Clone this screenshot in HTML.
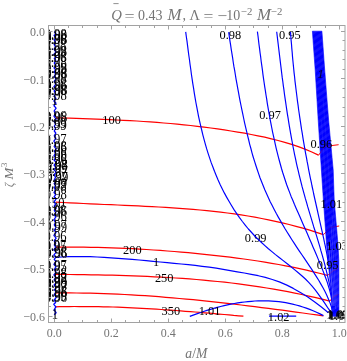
<!DOCTYPE html><html><head><meta charset="utf-8"><style>
html,body{margin:0;padding:0;background:#fff;}body{width:347px;height:361px;overflow:hidden;position:relative;font-family:"Liberation Serif",serif;}svg{will-change:transform;position:absolute;left:0;top:0;display:block}text{font-family:"Liberation Serif",serif;}
</style></head><body>
<svg width="347" height="361" viewBox="0 0 347 361">
<defs><clipPath id="c"><rect x="48.5" y="25.5" width="296.5" height="297.0"/></clipPath></defs>
<rect width="347" height="361" fill="#fff"/>
<g clip-path="url(#c)">
<g fill="none" stroke="#ff0000" stroke-width="1.25" stroke-linejoin="miter">
<path d="M56.0,117.8 L62.7,118.0 L69.5,118.2 L76.2,118.4 L82.9,118.6 L89.7,118.9 L96.4,119.1 L103.1,119.4 L109.8,119.6 L116.6,120.0 L123.3,120.3 L130.0,120.7 L136.8,121.0 L143.5,121.5 L150.2,121.9 L157.0,122.4 L163.7,123.0 L170.4,123.5 L177.2,124.2 L183.9,124.8 L190.6,125.5 L197.3,126.3 L204.1,127.1 L210.8,128.0 L217.5,128.9 L224.3,129.9 L231.0,131.0 L237.7,132.1 L244.5,133.2 L251.2,134.5 L257.9,135.8 L264.7,137.2 L271.4,138.8 L278.1,140.5 L284.8,142.4 L291.6,144.4 L298.3,146.7 L305.0,149.2 L311.8,152.0 L318.5,155.1"/>
<path d="M318.5,155.3 L324.8,146.5 L338.6,144.7" stroke-width="0.9"/>
<path d="M56.0,202.1 L62.9,202.5 L69.7,202.9 L76.6,203.2 L83.4,203.5 L90.3,203.9 L97.1,204.2 L104.0,204.5 L110.9,204.7 L117.7,205.0 L124.6,205.3 L131.4,205.6 L138.3,205.9 L145.1,206.3 L152.0,206.6 L158.8,207.0 L165.7,207.4 L172.6,207.8 L179.4,208.3 L186.3,208.8 L193.1,209.3 L200.0,210.0 L206.8,210.6 L213.7,211.3 L220.6,212.1 L227.4,213.0 L234.3,213.9 L241.1,214.9 L248.0,216.0 L254.8,217.2 L261.7,218.5 L268.5,219.8 L275.4,221.3 L282.3,222.9 L289.1,224.5 L296.0,226.3 L302.8,228.2 L309.7,230.2 L316.5,232.4 L323.4,234.7"/>
<path d="M323.4,234.7 L330.6,227.5 L339.2,226.0" stroke-width="0.9"/>
<path d="M56.0,247.0 L63.0,247.0 L69.9,247.0 L76.9,247.1 L83.8,247.1 L90.8,247.3 L97.8,247.4 L104.7,247.6 L111.7,247.8 L118.6,248.1 L125.6,248.4 L132.5,248.7 L139.5,249.1 L146.5,249.5 L153.4,250.0 L160.4,250.4 L167.3,251.0 L174.3,251.5 L181.3,252.1 L188.2,252.7 L195.2,253.4 L202.1,254.1 L209.1,254.8 L216.1,255.6 L223.0,256.4 L230.0,257.2 L236.9,258.1 L243.9,259.0 L250.9,260.0 L257.8,261.0 L264.8,262.1 L271.7,263.3 L278.7,264.5 L285.6,265.8 L292.6,267.2 L299.6,268.6 L306.5,270.1 L313.5,271.8 L320.4,273.5 L327.4,275.3"/>
<path d="M327.4,275.6 L333.0,270.8 L337.5,269.2" stroke-width="0.9"/>
<path d="M56.0,274.4 L63.0,274.4 L70.0,274.5 L77.1,274.6 L84.1,274.7 L91.1,274.8 L98.1,274.9 L105.2,275.1 L112.2,275.2 L119.2,275.4 L126.2,275.6 L133.3,275.9 L140.3,276.1 L147.3,276.4 L154.3,276.8 L161.3,277.1 L168.4,277.5 L175.4,278.0 L182.4,278.4 L189.4,278.9 L196.5,279.5 L203.5,280.1 L210.5,280.8 L217.5,281.5 L224.6,282.2 L231.6,283.0 L238.6,283.9 L245.6,284.8 L252.6,285.8 L259.7,286.9 L266.7,288.0 L273.7,289.1 L280.7,290.4 L287.8,291.7 L294.8,293.1 L301.8,294.5 L308.8,296.1 L315.9,297.7 L322.9,299.3 L329.9,301.1"/>
<path d="M329.9,301.0 L334.0,296.2 L338.5,294.4" stroke-width="0.9"/>
<path d="M56.0,293.0 L62.9,292.9 L69.7,292.9 L76.6,293.0 L83.4,293.1 L90.3,293.2 L97.1,293.4 L104.0,293.6 L110.9,293.9 L117.7,294.2 L124.6,294.5 L131.4,294.9 L138.3,295.3 L145.1,295.7 L152.0,296.2 L158.8,296.7 L165.7,297.3 L172.6,297.8 L179.4,298.5 L186.3,299.1 L193.1,299.7 L200.0,300.4 L206.8,301.1 L213.7,301.9 L220.6,302.6 L227.4,303.4 L234.3,304.2 L241.1,305.0 L248.0,305.8 L254.8,306.7 L261.7,307.6 L268.5,308.4 L275.4,309.3 L282.3,310.2 L289.1,311.2 L296.0,312.1 L302.8,313.0 L309.7,314.0 L316.5,314.9 L323.4,315.9"/>
<path d="M55.0,306.9 L59.8,306.7 L64.7,306.6 L69.5,306.6 L74.3,306.5 L79.2,306.5 L84.0,306.5 L88.8,306.5 L93.6,306.6 L98.5,306.7 L103.3,306.8 L108.1,306.9 L113.0,307.0 L117.8,307.2 L122.6,307.4 L127.5,307.6 L132.3,307.8 L137.1,308.1 L142.0,308.3 L146.8,308.6 L151.6,308.9 L156.4,309.2 L161.3,309.5 L166.1,309.8 L170.9,310.2 L175.8,310.5 L180.6,310.9 L185.4,311.3 L190.3,311.6 L195.1,312.0 L199.9,312.4 L204.8,312.8 L209.6,313.2 L214.4,313.7 L219.2,314.1 L224.1,314.5 L228.9,314.9 L233.7,315.4 L238.6,315.8 L243.4,316.2"/>
</g>
<g font-size="12.4" fill="#000" text-anchor="middle">
<text transform="translate(230.3,38.7) scale(1,1.09)">0.98</text>
<text transform="translate(289.9,38.7) scale(1,1.09)">0.95</text>
<text transform="translate(270.0,119.0) scale(1,1.09)">0.97</text>
<text transform="translate(255.7,241.8) scale(1,1.09)">0.99</text>
<text transform="translate(320.4,78.0) scale(1,1.09)">1</text>
</g>
<g fill="none" stroke="#0000ff" stroke-width="1.18" stroke-linejoin="round">
<path d="M54.2,31.6 L56.0,33.6 L54.1,35.5 L55.6,37.7 L54.3,40.1 L55.6,42.4 L54.1,44.3 L55.6,47.1 L54.0,49.2 L55.9,52.1 L53.8,54.4 L56.1,56.3 L54.3,58.4 L55.8,60.4 L54.3,63.1 L56.0,65.6 L54.0,67.9 L55.6,69.8 L54.0,71.8 L55.8,74.1 L54.1,76.6 L56.1,78.8 L54.2,81.4 L55.9,83.9 L53.9,86.8 L56.2,88.9 L54.1,90.9 L55.6,93.6 L54.3,95.9 L56.0,98.5 L53.9,101.0 L56.0,103.2 L54.0,105.7 L56.1,108.1 L54.1,111.0 L55.6,113.6 L54.0,116.2 L56.1,119.2 L54.1,121.4 L55.6,124.0 L54.3,126.3 L55.6,128.3 L54.3,131.0 L55.8,133.1 L54.3,135.9 L55.9,138.3 L53.9,141.1 L55.7,144.0 L54.2,146.3 L56.2,149.1 L54.3,151.1 L55.7,153.2 L54.0,155.6 L55.6,157.7 L54.1,160.0 L56.2,162.5 L54.1,165.1 L56.0,167.6 L53.9,169.5 L56.1,172.2 L54.1,175.0 L55.6,177.3 L54.3,179.8 L55.7,181.7 L54.2,183.7 L55.6,185.6 L54.3,187.6 L55.6,189.8 L54.0,192.6 L55.7,194.6 L54.1,196.8 L56.1,198.8 L54.1,201.8 L55.6,204.2 L54.2,206.1 L56.1,208.2 L54.3,210.2 L55.9,213.1 L54.1,215.1 L55.9,216.9 L53.9,219.9 L55.7,222.6 L54.3,224.8 L55.9,227.5 L54.2,230.3 L56.1,232.3 L53.9,235.3 L56.1,238.1 L54.2,240.8 L55.8,243.2 L54.3,245.0 L55.7,247.2 L53.8,249.8 L56.2,252.1 L53.8,255.1 L55.7,257.3 L54.2,259.4 L56.0,261.5 L53.9,264.3 L56.0,266.7 L54.3,269.5 L56.1,272.1 L53.9,274.8 L55.7,277.2 L54.2,279.9 L56.2,282.7 L54.1,285.0 L56.0,287.9 L54.3,289.9 L56.1,291.9 L54.3,294.7 L56.2,297.4 L54.2,300.0 L55.6,302.5 L53.8,304.3 L55.9,306.9 L54.1,309.8 L56.1,312.7 L54.2,314.7" stroke-width="1.3"/>
<path d="M55.0,257.4 L62.0,257.0 L69.0,256.7 L76.0,256.6 L83.0,256.6 L90.1,256.7 L97.1,257.0 L104.1,257.3 L111.1,257.8 L118.1,258.3 L125.1,258.8 L132.1,259.4 L139.1,260.0 L146.1,260.7 L153.1,261.3 L160.2,262.0 L167.2,262.7 L174.2,263.3 L181.2,264.0 L188.2,264.7 L195.2,265.4 L202.2,266.3 L209.2,267.2 L216.2,268.2 L223.2,269.3 L230.3,270.6 L237.3,271.8 L244.3,273.0 L251.3,274.3 L258.3,275.7 L265.3,277.4 L272.3,279.5 L279.3,281.9 L286.3,284.9 L293.3,288.4 L300.4,292.4 L307.4,296.8 L314.4,301.7 L321.4,307.0 L328.4,312.8"/>
<path d="M189.8,316.4 L193.2,315.1 L196.7,313.9 L200.1,312.7 L203.5,311.5 L206.9,310.4 L210.4,309.4 L213.8,308.4 L217.2,307.4 L220.6,306.5 L224.1,305.7 L227.5,304.9 L230.9,304.2 L234.3,303.5 L237.8,302.9 L241.2,302.4 L244.6,302.0 L248.0,301.6 L251.5,301.3 L254.9,301.0 L258.3,300.9 L261.7,300.8 L265.2,300.8 L268.6,300.9 L272.0,301.1 L275.4,301.4 L278.9,301.7 L282.3,302.2 L285.7,302.7 L289.1,303.4 L292.6,304.1 L296.0,305.0 L299.4,305.9 L302.8,307.0 L306.3,308.1 L309.7,309.4 L313.1,310.8 L316.5,312.3 L320.0,313.9 L323.4,315.6"/>
<path d="M269.0,316.2 L296.2,316.2"/>
<path d="M185.7,31.9 L186.3,36.5 L187.0,41.2 L187.6,45.9 L188.2,50.6 L188.8,55.3 L189.5,60.0 L190.1,64.7 L190.8,69.5 L191.4,74.2 L192.1,78.9 L192.8,83.6 L193.6,88.4 L194.3,93.1 L195.1,97.8 L195.9,102.5 L196.8,107.2 L197.7,111.9 L198.6,116.6 L199.6,121.2 L200.7,125.9 L201.8,130.5 L202.9,135.1 L204.1,139.7 L205.4,144.3 L206.7,148.9 L208.1,153.4 L209.6,157.9 L211.1,162.4 L212.8,166.8 L214.5,171.3 L216.3,175.7 L218.1,180.0 L220.1,184.4 L222.2,188.7 L224.3,192.9 L226.6,197.1 L229.0,201.3 L231.5,205.5 L234.0,209.6 L236.7,213.6 L239.5,217.6 L242.4,221.5 L245.4,225.3 L248.4,229.0 L251.6,232.5 L254.8,236.0 L258.1,239.3 L261.5,242.5 L264.9,245.6 L268.4,248.7 L271.9,251.6 L275.5,254.6 L279.2,257.5 L282.9,260.4 L286.6,263.3 L290.4,266.3 L294.2,269.4 L298.0,272.5 L301.8,275.7 L305.4,279.0 L308.7,282.4 L311.9,285.9 L314.8,289.4 L317.6,293.1 L320.3,296.8 L323.0,300.7 L325.7,304.6 L328.4,308.7 L331.3,312.8"/>
<path d="M228.7,32.2 L229.3,36.4 L229.9,40.6 L230.6,44.9 L231.2,49.1 L231.9,53.4 L232.6,57.7 L233.2,62.0 L233.9,66.4 L234.7,70.7 L235.4,75.0 L236.1,79.4 L236.9,83.7 L237.7,88.1 L238.5,92.4 L239.3,96.8 L240.1,101.1 L241.0,105.5 L241.9,109.8 L242.8,114.2 L243.7,118.5 L244.6,122.8 L245.6,127.1 L246.6,131.4 L247.6,135.7 L248.7,140.0 L249.7,144.3 L250.9,148.5 L252.0,152.8 L253.2,157.0 L254.5,161.2 L255.8,165.3 L257.2,169.5 L258.6,173.6 L260.0,177.7 L261.6,181.8 L263.2,185.8 L264.8,189.8 L266.6,193.8 L268.4,197.7 L270.2,201.7 L272.2,205.6 L274.2,209.4 L276.2,213.3 L278.3,217.1 L280.5,220.9 L282.7,224.7 L284.9,228.5 L287.2,232.2 L289.5,235.9 L291.9,239.7 L294.3,243.4 L296.7,247.1 L299.2,250.8 L301.7,254.5 L304.2,258.2 L306.7,261.9 L309.2,265.6 L311.6,269.2 L314.0,272.9 L316.4,276.6 L318.7,280.3 L320.9,284.1 L323.0,287.8 L325.0,291.6 L326.9,295.5 L328.6,299.4 L330.2,303.4 L331.6,307.5 L332.8,311.7"/>
<path d="M257.4,31.7 L258.0,36.0 L258.5,40.3 L259.0,44.5 L259.6,48.8 L260.1,53.0 L260.7,57.2 L261.2,61.5 L261.8,65.7 L262.4,69.9 L262.9,74.1 L263.5,78.3 L264.1,82.5 L264.7,86.6 L265.4,90.8 L266.0,95.0 L266.7,99.1 L267.3,103.3 L268.0,107.4 L268.7,111.5 L269.5,115.7 L270.2,119.8 L271.0,123.9 L271.8,128.0 L272.6,132.1 L273.5,136.1 L274.4,140.2 L275.3,144.3 L276.2,148.3 L277.2,152.4 L278.2,156.4 L279.3,160.5 L280.4,164.5 L281.5,168.5 L282.7,172.5 L284.0,176.5 L285.3,180.5 L286.6,184.5 L288.1,188.5 L289.6,192.4 L291.1,196.4 L292.8,200.3 L294.4,204.3 L296.1,208.2 L297.8,212.1 L299.6,216.0 L301.3,220.0 L303.0,223.9 L304.7,227.7 L306.4,231.6 L308.1,235.5 L309.8,239.4 L311.5,243.3 L313.1,247.2 L314.8,251.1 L316.5,255.0 L318.1,258.9 L319.7,262.8 L321.4,266.7 L322.9,270.6 L324.4,274.5 L325.9,278.5 L327.3,282.4 L328.5,286.4 L329.7,290.4 L330.7,294.4 L331.5,298.4 L332.2,302.4 L332.7,306.5 L333.0,310.5"/>
<path d="M276.7,31.8 L277.2,36.0 L277.7,40.1 L278.2,44.3 L278.7,48.5 L279.2,52.6 L279.7,56.7 L280.2,60.9 L280.7,65.0 L281.2,69.1 L281.7,73.2 L282.2,77.4 L282.8,81.5 L283.3,85.6 L283.9,89.7 L284.4,93.7 L285.0,97.8 L285.6,101.9 L286.2,106.0 L286.8,110.1 L287.4,114.1 L288.1,118.2 L288.7,122.2 L289.4,126.3 L290.1,130.3 L290.8,134.4 L291.5,138.4 L292.3,142.5 L293.0,146.5 L293.8,150.5 L294.6,154.6 L295.5,158.6 L296.3,162.6 L297.2,166.6 L298.2,170.7 L299.1,174.7 L300.1,178.7 L301.1,182.7 L302.1,186.7 L303.2,190.7 L304.3,194.7 L305.4,198.7 L306.6,202.7 L307.7,206.7 L308.9,210.7 L310.1,214.7 L311.3,218.7 L312.5,222.7 L313.7,226.7 L315.0,230.7 L316.2,234.7 L317.4,238.7 L318.6,242.7 L319.8,246.7 L320.9,250.7 L322.1,254.7 L323.2,258.7 L324.3,262.7 L325.3,266.7 L326.3,270.6 L327.3,274.6 L328.2,278.6 L329.1,282.6 L330.0,286.6 L330.7,290.6 L331.5,294.6 L332.1,298.6 L332.7,302.6 L333.3,306.7 L333.7,310.7"/>
<path d="M290.5,31.9 L290.8,36.0 L291.1,40.1 L291.5,44.3 L291.8,48.4 L292.2,52.5 L292.5,56.6 L292.9,60.7 L293.3,64.8 L293.7,68.8 L294.1,72.9 L294.6,77.0 L295.0,81.1 L295.5,85.1 L296.0,89.2 L296.5,93.3 L297.0,97.3 L297.5,101.4 L298.1,105.4 L298.6,109.5 L299.2,113.5 L299.8,117.6 L300.4,121.6 L301.0,125.6 L301.6,129.7 L302.3,133.7 L302.9,137.7 L303.6,141.8 L304.3,145.8 L305.0,149.8 L305.7,153.8 L306.5,157.8 L307.2,161.9 L308.0,165.9 L308.7,169.9 L309.5,173.9 L310.3,177.9 L311.2,181.9 L312.0,186.0 L312.9,190.0 L313.7,194.0 L314.6,198.0 L315.5,202.0 L316.4,206.0 L317.3,210.0 L318.2,214.1 L319.1,218.1 L320.0,222.1 L320.9,226.1 L321.8,230.1 L322.7,234.1 L323.6,238.2 L324.4,242.2 L325.3,246.2 L326.1,250.2 L326.9,254.2 L327.6,258.3 L328.4,262.3 L329.1,266.3 L329.7,270.4 L330.4,274.4 L331.0,278.4 L331.5,282.5 L332.0,286.5 L332.5,290.6 L332.9,294.6 L333.2,298.7 L333.5,302.7 L333.7,306.8 L333.9,310.9"/>
</g>
<clipPath id="bc"><path d="M312.4,31.2 L321.9,31.2 L324.7,70.0 L327.0,100.0 L328.6,120.0 L333.2,170.0 L334.2,200.0 L338.0,245.0 L338.8,260.0 L338.9,290.0 L338.9,316.3 L331.9,316.3 L331.7,300.0 L331.0,290.0 L329.4,275.0 L326.6,245.0 L323.4,200.0 L321.4,170.0 L318.2,120.0 L317.0,100.0 L315.2,70.0 Z"/></clipPath><path d="M312.4,31.2 L321.9,31.2 L324.7,70.0 L327.0,100.0 L328.6,120.0 L333.2,170.0 L334.2,200.0 L338.0,245.0 L338.8,260.0 L338.9,290.0 L338.9,316.3 L331.9,316.3 L331.7,300.0 L331.0,290.0 L329.4,275.0 L326.6,245.0 L323.4,200.0 L321.4,170.0 L318.2,120.0 L317.0,100.0 L315.2,70.0 Z" fill="#0000ff" stroke="#0000ff" stroke-width="0.6"/><path clip-path="url(#bc)" d="M300,36.0L345,4.0 M300,42.6L345,10.6 M300,49.2L345,17.2 M300,55.8L345,23.8 M300,62.4L345,30.4 M300,69.0L345,37.0 M300,75.6L345,43.6 M300,82.2L345,50.2 M300,88.8L345,56.8 M300,95.4L345,63.4 M300,102.0L345,70.0 M300,108.6L345,76.6 M300,115.2L345,83.2 M300,121.8L345,89.8 M300,128.4L345,96.4 M300,135.0L345,103.0 M300,141.6L345,109.6 M300,148.2L345,116.2 M300,154.8L345,122.8 M300,161.4L345,129.4 M300,168.0L345,136.0 M300,174.6L345,142.6 M300,181.2L345,149.2 M300,187.8L345,155.8 M300,194.4L345,162.4 M300,201.0L345,169.0 M300,207.6L345,175.6 M300,214.2L345,182.2 M300,220.8L345,188.8 M300,227.4L345,195.4 M300,234.0L345,202.0 M300,240.6L345,208.6 M300,247.2L345,215.2 M300,253.8L345,221.8 M300,260.4L345,228.4 M300,267.0L345,235.0 M300,273.6L345,241.6 M300,280.2L345,248.2 M300,286.8L345,254.8 M300,293.4L345,261.4 M300,300.0L345,268.0 M300,306.6L345,274.6 M300,313.2L345,281.2 M300,319.8L345,287.8 M300,326.4L345,294.4 M300,333.0L345,301.0 M300,339.6L345,307.6" stroke="#ffffff" stroke-width="2.6" opacity="0.075" fill="none"/><path d="M328.6,246.0 L329.1,252.0 L329.7,258.0 L330.1,264.0 L330.6,270.0 L331.1,276.0 L331.6,282.0 L332.2,288.0 L332.6,294.0 L332.9,300.0 L333.0,306.0" stroke="#ffffff" stroke-width="0.55" opacity="0.55" fill="none"/><path d="M330.3,240.0 L330.8,246.0 L331.3,252.0 L331.7,258.0 L332.1,264.0 L332.5,270.0 L332.9,276.0 L333.3,282.0 L333.7,288.0 L334.0,294.0 L334.3,300.0 L334.3,306.0" stroke="#ffffff" stroke-width="0.55" opacity="0.32" fill="none"/><path d="M331.1,225.0 L331.5,231.0 L332.0,237.0 L332.5,243.0 L332.9,249.0 L333.4,255.0 L333.8,261.0 L334.0,267.0 L334.3,273.0 L334.6,279.0 L334.9,285.0 L335.2,291.0 L335.4,297.0 L335.5,303.0 L335.6,309.0" stroke="#ffffff" stroke-width="0.55" opacity="0.26" fill="none"/><path d="M332.1,215.0 L332.5,221.0 L333.0,227.0 L333.5,233.0 L334.0,239.0 L334.5,245.0 L334.9,251.0 L335.3,257.0 L335.5,263.0 L335.7,269.0 L335.9,275.0 L336.1,281.0 L336.3,287.0 L336.5,293.0 L336.6,299.0 L336.7,305.0" stroke="#ffffff" stroke-width="0.55" opacity="0.20" fill="none"/><path d="M333.0,205.0 L333.5,211.0 L334.0,217.0 L334.5,223.0 L335.0,229.0 L335.5,235.0 L336.0,241.0 L336.4,247.0 L336.8,253.0 L337.1,259.0 L337.3,265.0 L337.4,271.0 L337.5,277.0 L337.6,283.0 L337.7,289.0 L337.8,295.0 L337.8,301.0 L337.8,307.0" stroke="#ffffff" stroke-width="0.55" opacity="0.16" fill="none"/><path d="M321.3,120.0 L321.8,126.0 L322.2,132.0 L322.6,138.0 L323.1,144.0 L323.5,150.0 L323.9,156.0 L324.4,162.0 L324.8,168.0 L325.2,174.0 L325.5,180.0 L325.8,186.0 L326.2,192.0 L326.5,198.0 L326.9,204.0 L327.4,210.0" stroke="#ffffff" stroke-width="0.55" opacity="0.12" fill="none"/><path d="M323.2,100.0 L323.6,106.0 L324.1,112.0 L324.5,118.0 L325.0,124.0 L325.5,130.0 L325.9,136.0 L326.4,142.0 L326.9,148.0 L327.4,154.0 L327.9,160.0 L328.4,166.0 L328.8,172.0 L329.1,178.0 L329.4,184.0 L329.6,190.0 L329.9,196.0 L330.3,202.0" stroke="#ffffff" stroke-width="0.55" opacity="0.10" fill="none"/>
<g fill="none" stroke="#ff0000" stroke-width="0.8" opacity="0.25">
<path d="M318.5,155.3 L324.8,146.5 L338.6,144.7"/>
<path d="M323.4,234.7 L330.6,227.5 L339.2,226.0"/>
<path d="M327.4,275.6 L333.0,270.8 L337.5,269.2"/>
<path d="M329.9,301.0 L334.0,296.2 L338.5,294.4"/>
</g>
<g font-size="12.4" fill="#000" text-anchor="middle">
<text transform="translate(321.4,147.6) scale(1,1.09)">0.96</text>
<text transform="translate(331.4,208.0) scale(1,1.09)">1.01</text>
<text transform="translate(337.0,250.4) scale(1,1.09)">1.03</text>
<text transform="translate(327.7,269.1) scale(1,1.09)">0.95</text>
<text transform="translate(111.6,124.2) scale(1,1.09)">100</text>
<text transform="translate(132.4,253.5) scale(1,1.09)">200</text>
<text transform="translate(164.2,282.4) scale(1,1.09)">250</text>
<text transform="translate(170.8,315.4) scale(1,1.09)">350</text>
<text transform="translate(156.0,265.8) scale(1,1.09)">1</text>
<text transform="translate(209.5,314.8) scale(1,1.09)">1.01</text>
<text transform="translate(278.7,320.6) scale(1,1.09)">1.02</text>
</g>
<g font-size="12.6" fill="#000" text-anchor="middle">
<text transform="translate(55.7,39.2) scale(1,1.09)">0.98</text>
<text transform="translate(56.0,40.2) scale(1,1.09)">0.99</text>
<text transform="translate(55.5,44.0) scale(1,1.09)">0.96</text>
<text transform="translate(56.2,44.2) scale(1,1.09)">0.98</text>
<text transform="translate(55.4,50.1) scale(1,1.09)">0.98</text>
<text transform="translate(55.4,56.2) scale(1,1.09)">0.99</text>
<text transform="translate(56.1,56.4) scale(1,1.09)">0.98</text>
<text transform="translate(55.4,61.9) scale(1,1.09)">0.96</text>
<text transform="translate(55.8,61.9) scale(1,1.09)">0.98</text>
<text transform="translate(55.7,67.2) scale(1,1.09)">0.98</text>
<text transform="translate(55.7,72.8) scale(1,1.09)">0.99</text>
<text transform="translate(56.1,73.2) scale(1,1.09)">0.98</text>
<text transform="translate(56.0,78.5) scale(1,1.09)">0.98</text>
<text transform="translate(56.1,78.4) scale(1,1.09)">0.96</text>
<text transform="translate(55.6,83.0) scale(1,1.09)">0.98</text>
<text transform="translate(55.6,89.2) scale(1,1.09)">0.98</text>
<text transform="translate(56.3,89.5) scale(1,1.09)">0.96</text>
<text transform="translate(55.5,94.7) scale(1,1.09)">0.98</text>
<text transform="translate(56.3,94.5) scale(1,1.09)">0.96</text>
<text transform="translate(55.8,99.5) scale(1,1.09)">0.98</text>
<text transform="translate(54.6,105.0) scale(1,1.09)">1</text>
<text transform="translate(55.4,121.3) scale(1,1.09)">0.96</text>
<text transform="translate(56.2,121.7) scale(1,1.09)">0.98</text>
<text transform="translate(55.4,128.3) scale(1,1.09)">0.99</text>
<text transform="translate(55.8,129.6) scale(1,1.09)">0.99</text>
<text transform="translate(55.5,143.7) scale(1,1.09)">0.97</text>
<text transform="translate(55.8,150.8) scale(1,1.09)">0.98</text>
<text transform="translate(55.8,152.4) scale(1,1.09)">0.96</text>
<text transform="translate(55.9,158.2) scale(1,1.09)">0.96</text>
<text transform="translate(55.8,159.6) scale(1,1.09)">0.98</text>
<text transform="translate(55.8,163.5) scale(1,1.09)">0.96</text>
<text transform="translate(56.4,169.7) scale(1,1.09)">0.97</text>
<text transform="translate(56.8,170.1) scale(1,1.09)">0.98</text>
<text transform="translate(56.3,173.3) scale(1,1.09)">0.99</text>
<text transform="translate(56.7,176.3) scale(1,1.09)">0.97</text>
<text transform="translate(56.9,181.7) scale(1,1.09)">0.97</text>
<text transform="translate(57.2,181.9) scale(1,1.09)">0.99</text>
<text transform="translate(56.0,187.8) scale(1,1.09)">0.99</text>
<text transform="translate(55.8,189.1) scale(1,1.09)">0.97</text>
<text transform="translate(55.5,191.4) scale(1,1.09)">0.98</text>
<text transform="translate(55.8,199.4) scale(1,1.09)">0.98</text>
<text transform="translate(55.0,207.8) scale(1,1.09)">150</text>
<text transform="translate(55.4,215.4) scale(1,1.09)">0.98</text>
<text transform="translate(56.1,216.0) scale(1,1.09)">0.96</text>
<text transform="translate(55.8,220.8) scale(1,1.09)">0.96</text>
<text transform="translate(55.9,230.4) scale(1,1.09)">0.97</text>
<text transform="translate(56.0,232.2) scale(1,1.09)">0.99</text>
<text transform="translate(55.5,240.5) scale(1,1.09)">0.96</text>
<text transform="translate(55.4,250.0) scale(1,1.09)">0.97</text>
<text transform="translate(55.7,250.7) scale(1,1.09)">0.95</text>
<text transform="translate(55.8,256.5) scale(1,1.09)">0.98</text>
<text transform="translate(56.3,258.4) scale(1,1.09)">0.96</text>
<text transform="translate(55.8,270.2) scale(1,1.09)">0.97</text>
<text transform="translate(55.7,271.1) scale(1,1.09)">0.95</text>
<text transform="translate(55.8,277.8) scale(1,1.09)">0.98</text>
<text transform="translate(55.8,281.9) scale(1,1.09)">0.99</text>
<text transform="translate(55.9,282.8) scale(1,1.09)">0.97</text>
<text transform="translate(55.7,287.2) scale(1,1.09)">0.98</text>
<text transform="translate(56.2,288.4) scale(1,1.09)">0.99</text>
<text transform="translate(56.0,291.3) scale(1,1.09)">0.97</text>
<text transform="translate(56.0,296.3) scale(1,1.09)">0.98</text>
<text transform="translate(56.2,297.3) scale(1,1.09)">0.96</text>
<text transform="translate(55.8,300.8) scale(1,1.09)">0.99</text>
<text transform="translate(56.1,301.6) scale(1,1.09)">0.96</text>
<text transform="translate(55.0,319.4) scale(1,1.09)">1</text>
</g>
<g font-size="12.4" fill="#000" text-anchor="middle" opacity="0.95" stroke="#000" stroke-width="0.15">
<text transform="translate(338.2,317.8) scale(1,1.09)">1.02</text>
<text transform="translate(339.6,319.8) scale(1,1.09)">1.03</text>
<text transform="translate(337.4,319.1) scale(1,1.09)">1.05</text>
<text transform="translate(339.0,318.6) scale(1,1.09)">1.04</text>
<text x="320.6" y="77.6" font-style="italic" opacity="0.8">1</text>
</g>
</g>
<rect x="48.5" y="25.5" width="296.5" height="297.0" fill="none" stroke="#a2a2a2" stroke-width="1.00"/>
<path d="M54.50,322.5v-4.0 M54.50,25.5v4.0 M68.50,322.5v-2.5 M68.50,25.5v2.5 M82.50,322.5v-2.5 M82.50,25.5v2.5 M97.50,322.5v-2.5 M97.50,25.5v2.5 M111.50,322.5v-4.0 M111.50,25.5v4.0 M125.50,322.5v-2.5 M125.50,25.5v2.5 M139.50,322.5v-2.5 M139.50,25.5v2.5 M154.50,322.5v-2.5 M154.50,25.5v2.5 M168.50,322.5v-4.0 M168.50,25.5v4.0 M182.50,322.5v-2.5 M182.50,25.5v2.5 M196.50,322.5v-2.5 M196.50,25.5v2.5 M211.50,322.5v-2.5 M211.50,25.5v2.5 M225.50,322.5v-4.0 M225.50,25.5v4.0 M239.50,322.5v-2.5 M239.50,25.5v2.5 M253.50,322.5v-2.5 M253.50,25.5v2.5 M268.50,322.5v-2.5 M268.50,25.5v2.5 M282.50,322.5v-4.0 M282.50,25.5v4.0 M296.50,322.5v-2.5 M296.50,25.5v2.5 M310.50,322.5v-2.5 M310.50,25.5v2.5 M325.50,322.5v-2.5 M325.50,25.5v2.5 M339.50,322.5v-4.0 M339.50,25.5v4.0 M48.5,31.50h4.0 M345.0,31.50h-4.0 M48.5,40.50h2.5 M345.0,40.50h-2.5 M48.5,50.50h2.5 M345.0,50.50h-2.5 M48.5,59.50h2.5 M345.0,59.50h-2.5 M48.5,69.50h2.5 M345.0,69.50h-2.5 M48.5,78.50h4.0 M345.0,78.50h-4.0 M48.5,88.50h2.5 M345.0,88.50h-2.5 M48.5,97.50h2.5 M345.0,97.50h-2.5 M48.5,107.50h2.5 M345.0,107.50h-2.5 M48.5,116.50h2.5 M345.0,116.50h-2.5 M48.5,126.50h4.0 M345.0,126.50h-4.0 M48.5,135.50h2.5 M345.0,135.50h-2.5 M48.5,145.50h2.5 M345.0,145.50h-2.5 M48.5,154.50h2.5 M345.0,154.50h-2.5 M48.5,164.50h2.5 M345.0,164.50h-2.5 M48.5,173.50h4.0 M345.0,173.50h-4.0 M48.5,183.50h2.5 M345.0,183.50h-2.5 M48.5,192.50h2.5 M345.0,192.50h-2.5 M48.5,202.50h2.5 M345.0,202.50h-2.5 M48.5,211.50h2.5 M345.0,211.50h-2.5 M48.5,221.50h4.0 M345.0,221.50h-4.0 M48.5,230.50h2.5 M345.0,230.50h-2.5 M48.5,240.50h2.5 M345.0,240.50h-2.5 M48.5,249.50h2.5 M345.0,249.50h-2.5 M48.5,259.50h2.5 M345.0,259.50h-2.5 M48.5,268.50h4.0 M345.0,268.50h-4.0 M48.5,278.50h2.5 M345.0,278.50h-2.5 M48.5,287.50h2.5 M345.0,287.50h-2.5 M48.5,297.50h2.5 M345.0,297.50h-2.5 M48.5,306.50h2.5 M345.0,306.50h-2.5 M48.5,316.50h4.0 M345.0,316.50h-4.0" fill="none" stroke="#a2a2a2" stroke-width="1.00"/>
<g font-size="12" fill="#747474">
<text transform="translate(54.3,336.5) scale(1,1.09)" text-anchor="middle">0.0</text>
<text transform="translate(111.3,336.5) scale(1,1.09)" text-anchor="middle">0.2</text>
<text transform="translate(168.3,336.5) scale(1,1.09)" text-anchor="middle">0.4</text>
<text transform="translate(225.3,336.5) scale(1,1.09)" text-anchor="middle">0.6</text>
<text transform="translate(282.3,336.5) scale(1,1.09)" text-anchor="middle">0.8</text>
<text transform="translate(339.3,336.5) scale(1,1.09)" text-anchor="middle">1.0</text>
<text transform="translate(45.0,36.0) scale(1,1.09)" text-anchor="end">0.0</text>
<text transform="translate(45.0,83.5) scale(1,1.09)" text-anchor="end">−0.1</text>
<text transform="translate(45.0,130.9) scale(1,1.09)" text-anchor="end">−0.2</text>
<text transform="translate(45.0,178.4) scale(1,1.09)" text-anchor="end">−0.3</text>
<text transform="translate(45.0,225.8) scale(1,1.09)" text-anchor="end">−0.4</text>
<text transform="translate(45.0,273.2) scale(1,1.09)" text-anchor="end">−0.5</text>
<text transform="translate(45.0,320.7) scale(1,1.09)" text-anchor="end">−0.6</text>
</g>
<text x="196.3" y="357.5" font-size="13.6" fill="#747474" text-anchor="middle" font-style="italic">a<tspan font-style="normal">/</tspan>M</text><g transform="translate(12.6,188.3) rotate(-90)" fill="#747474"><text transform="translate(1.2,0.2) scale(0.9,1)" font-size="11.5" font-style="italic">ζ</text><text transform="translate(8.7,0) scale(1.1,1)" font-size="13" font-style="italic">M</text><text x="21.2" y="-5.6" font-size="8.8">3</text></g>
<g fill="#747474"><text transform="translate(111.3,19.6) scale(1.05,1.1)" font-size="14" font-style="italic">Q</text><text transform="translate(124.6,20.9) scale(1.28,1.1)" font-size="14">=</text><text transform="translate(138.0,19.6) scale(1.00,1.1)" font-size="14">0.43</text><text transform="translate(167.4,19.6) scale(1.16,1.1)" font-size="14.5" font-style="italic">M</text><text transform="translate(182.6,19.6) scale(1.00,1.1)" font-size="14">,</text><text transform="translate(189.5,19.6) scale(1.02,1.1)" font-size="14">Λ</text><text transform="translate(203.6,20.9) scale(1.25,1.1)" font-size="14">=</text><text transform="translate(217.4,20.9) scale(1.25,1.1)" font-size="14">−</text><text transform="translate(226.3,19.6) scale(1.00,1.1)" font-size="14">10</text><text transform="translate(240.8,15.0) scale(1.08,1.1)" font-size="10">−2</text><text transform="translate(257.0,19.6) scale(1.16,1.1)" font-size="14.5" font-style="italic">M</text><text transform="translate(270.8,15.0) scale(1.08,1.1)" font-size="10">−2</text><path d="M113.4,3.6h5.2" stroke="#747474" stroke-width="0.8"/></g>
</svg></body></html>
